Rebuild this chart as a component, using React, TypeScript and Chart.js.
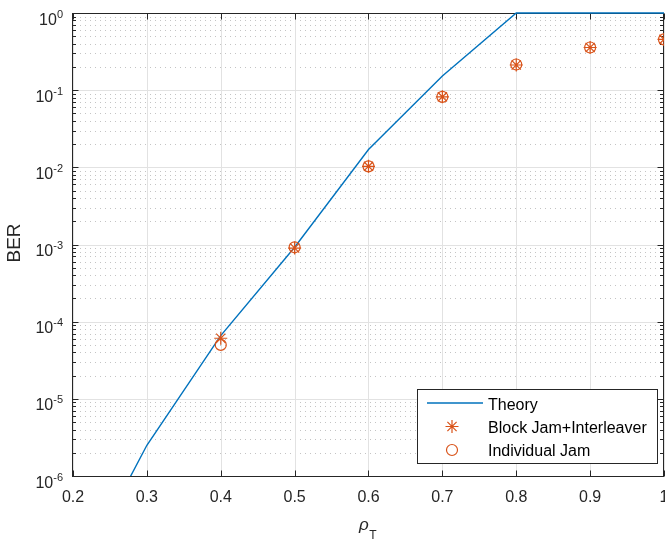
import React, { useEffect, useRef } from "react";
import { Chart, registerables } from "chart.js";

Chart.register(...registerables);

// ---- data ----
const rho: number[] = [0.2, 0.3, 0.4, 0.5, 0.6, 0.7, 0.8, 0.9, 1.0];
const theory: number[] = [3.8e-8, 2.5e-6, 6.6e-5, 9.2e-4, 1.7e-2, 0.153, 1, 1, 1];
const simRho: number[] = [0.4, 0.5, 0.6, 0.7, 0.8, 0.9, 1.0];
const blockJam: number[] = [6.1e-5, 9.0e-4, 1.03e-2, 8.2e-2, 0.212, 0.357, 0.455];
const individualJam: number[] = [5.0e-5, 9.2e-4, 1.03e-2, 8.2e-2, 0.215, 0.357, 0.455];

const xTicks: number[] = [0.2, 0.3, 0.4, 0.5, 0.6, 0.7, 0.8, 0.9, 1];
const xTickLabels: string[] = ["0.2", "0.3", "0.4", "0.5", "0.6", "0.7", "0.8", "0.9", "1"];
const yExponents: number[] = [0, -1, -2, -3, -4, -5, -6];
const seriesNames: string[] = ["Theory", "Block Jam+Interleaver", "Individual Jam"];

const BLUE = "#0072BD";
const ORANGE = "#D95319";
const AXIS = "#262626";
const FONT = "'Liberation Sans', Arial, sans-serif";

function drawStar(ctx: CanvasRenderingContext2D, cx: number, cy: number, r: number) {
  ctx.beginPath();
  ctx.moveTo(cx - r, cy); ctx.lineTo(cx + r, cy);
  ctx.moveTo(cx, cy - r); ctx.lineTo(cx, cy + r);
  const d = r * Math.SQRT1_2;
  ctx.moveTo(cx - d, cy - d); ctx.lineTo(cx + d, cy + d);
  ctx.moveTo(cx - d, cy + d); ctx.lineTo(cx + d, cy - d);
  ctx.stroke();
}

const matlabPlugin = {
  id: "matlabAxes",
  beforeDatasetsDraw(chart: any) {
    const { ctx, chartArea: a, scales } = chart;
    const xs = scales.x, ys = scales.y;
    ctx.save();
    // minor y grid (dotted)
    ctx.lineWidth = 1;
    ctx.strokeStyle = "#c4c4c4";
    ctx.setLineDash([1, 4]);
    for (const e of yExponents) {
      if (e === 0) continue;
      for (let m = 2; m <= 9; m++) {
        const py = Math.round(ys.getPixelForValue(m * Math.pow(10, e))) + 0.5;
        ctx.beginPath();
        ctx.moveTo(a.left + 2, py);
        ctx.lineTo(a.right, py);
        ctx.stroke();
      }
    }
    ctx.setLineDash([]);
    // major grid
    ctx.strokeStyle = "#e2e2e2";
    for (const t of xTicks) {
      const px = Math.round(xs.getPixelForValue(t)) + 0.5;
      ctx.beginPath(); ctx.moveTo(px, a.top); ctx.lineTo(px, a.bottom); ctx.stroke();
    }
    for (const e of yExponents) {
      const py = Math.round(ys.getPixelForValue(Math.pow(10, e))) + 0.5;
      ctx.beginPath(); ctx.moveTo(a.left, py); ctx.lineTo(a.right, py); ctx.stroke();
    }
    // axes box
    ctx.strokeStyle = AXIS;
    ctx.lineWidth = 1;
    const L = Math.round(a.left) - 0.5, R = Math.round(a.right) - 0.5;
    const T = Math.round(a.top) + 0.5, B = Math.round(a.bottom) + 0.5;
    ctx.strokeRect(L, T, R - L, B - T);
    // x ticks (inward, bottom & top)
    for (const t of xTicks) {
      const px = Math.round(xs.getPixelForValue(t)) + 0.5;
      ctx.beginPath();
      ctx.moveTo(px, B); ctx.lineTo(px, B - 6);
      ctx.moveTo(px, T); ctx.lineTo(px, T + 6);
      ctx.stroke();
    }
    // y ticks (major & minor, left & right)
    for (const e of yExponents) {
      const py = Math.round(ys.getPixelForValue(Math.pow(10, e))) + 0.5;
      ctx.beginPath();
      ctx.moveTo(L, py); ctx.lineTo(L + 6, py);
      ctx.moveTo(R, py); ctx.lineTo(R - 6, py);
      ctx.stroke();
      if (e === 0) continue;
      for (let m = 2; m <= 9; m++) {
        const pm = Math.round(ys.getPixelForValue(m * Math.pow(10, e))) + 0.5;
        ctx.beginPath();
        ctx.moveTo(L, pm); ctx.lineTo(L + 3.5, pm);
        ctx.moveTo(R, pm); ctx.lineTo(R - 3.5, pm);
        ctx.stroke();
      }
    }
    // x tick labels
    ctx.fillStyle = AXIS;
    ctx.font = `16px ${FONT}`;
    ctx.textAlign = "center";
    ctx.textBaseline = "alphabetic";
    xTicks.forEach((t, i) => {
      const px = xs.getPixelForValue(t);
      ctx.fillText(xTickLabels[i], px, a.bottom + 25.5);
    });
    // y tick labels 10^e
    for (const e of yExponents) {
      const py = ys.getPixelForValue(Math.pow(10, e));
      const exp = String(e);
      ctx.font = `11px ${FONT}`;
      const we = ctx.measureText(exp).width;
      ctx.font = `16px ${FONT}`;
      const wb = ctx.measureText("10").width;
      const right = a.left - 10;
      ctx.textAlign = "left";
      ctx.fillText("10", right - we - wb, py + 11.5);
      ctx.font = `11px ${FONT}`;
      ctx.fillText(exp, right - we, py + 4.5);
    }
    // y axis title
    ctx.save();
    ctx.font = `19px ${FONT}`;
    ctx.textAlign = "center";
    ctx.translate(20, (a.top + a.bottom) / 2 - 1.5);
    ctx.rotate(-Math.PI / 2);
    ctx.fillText("BER", 0, 0);
    ctx.restore();
    // x axis title  rho_T
    const cx = (a.left + a.right) / 2;
    ctx.textAlign = "left";
    ctx.font = `italic 17px ${FONT}`;
    const wr = ctx.measureText("ρ").width;
    ctx.font = `12px ${FONT}`;
    const wt = ctx.measureText("T").width;
    const x0 = cx - (wr + wt) / 2 - 1;
    ctx.font = `italic 17px ${FONT}`;
    ctx.fillText("ρ", x0, a.bottom + 54);
    ctx.font = `12px ${FONT}`;
    ctx.fillText("T", x0 + wr + 0.5, a.bottom + 63);
    ctx.restore();
  },
  afterDatasetsDraw(chart: any) {
    const { ctx } = chart;
    ctx.save();
    // legend box
    const lx = 417.5, ly = 389.5, lw = 240, lh = 74;
    ctx.fillStyle = "#ffffff";
    ctx.fillRect(lx, ly, lw, lh);
    ctx.strokeStyle = AXIS;
    ctx.lineWidth = 1;
    ctx.strokeRect(lx, ly, lw, lh);
    // entries
    ctx.strokeStyle = BLUE;
    ctx.lineWidth = 1.5;
    ctx.beginPath(); ctx.moveTo(427, 403); ctx.lineTo(483, 403); ctx.stroke();
    ctx.strokeStyle = ORANGE;
    ctx.lineWidth = 1.2;
    drawStar(ctx, 452, 426.5, 6.5);
    ctx.beginPath(); ctx.arc(452, 450, 5.5, 0, Math.PI * 2); ctx.stroke();
    ctx.fillStyle = "#000000";
    ctx.font = `16px ${FONT}`;
    ctx.textAlign = "left";
    ctx.textBaseline = "alphabetic";
    ctx.fillText(seriesNames[0], 488, 409.5);
    ctx.fillText(seriesNames[1], 488, 433);
    ctx.fillText(seriesNames[2], 488, 456);
    ctx.restore();
  },
};

export default function App() {
  const canvasRef = useRef<HTMLCanvasElement | null>(null);
  useEffect(() => {
    if (!canvasRef.current) return;
    const chart = new Chart(canvasRef.current, {
      type: "line",
      data: {
        datasets: [
          {
            label: seriesNames[0],
            data: rho.map((x, i) => ({ x, y: theory[i] })),
            borderColor: BLUE,
            borderWidth: 1.4,
            pointRadius: 0,
            fill: false,
            tension: 0,
            order: 2,
            clip: { left: 0, top: 2, right: 1, bottom: 0 },
          },
          {
            label: seriesNames[1],
            data: simRho.map((x, i) => ({ x, y: blockJam[i] })),
            borderColor: ORANGE,
            backgroundColor: ORANGE,
            showLine: false,
            pointStyle: "star",
            pointRadius: 6.5,
            pointBorderWidth: 1.2,
            order: 1,
          },
          {
            label: seriesNames[2],
            data: simRho.map((x, i) => ({ x, y: individualJam[i] })),
            borderColor: ORANGE,
            backgroundColor: "rgba(0,0,0,0)",
            showLine: false,
            pointStyle: "circle",
            pointRadius: 5.5,
            pointBorderWidth: 1.2,
            order: 0,
          },
        ],
      },
      options: {
        animation: false,
        responsive: false,
        devicePixelRatio: 1,
        events: [],
        layout: { autoPadding: false, padding: { left: 73, top: 13, right: 1, bottom: 65 } },
        plugins: { legend: { display: false }, tooltip: { enabled: false }, title: { display: false } },
        scales: {
          x: { type: "linear", min: 0.2, max: 1, display: false },
          y: { type: "logarithmic", min: 1e-6, max: 1, display: false },
        },
      },
      plugins: [matlabPlugin],
    } as any);
    return () => chart.destroy();
  }, []);
  return (
    <div style={{ position: "absolute", left: 0, top: 0, width: 665, height: 541, background: "#fff" }}>
      <canvas ref={canvasRef} width={665} height={541} style={{ display: "block", width: 665, height: 541 }} />
    </div>
  );
}
